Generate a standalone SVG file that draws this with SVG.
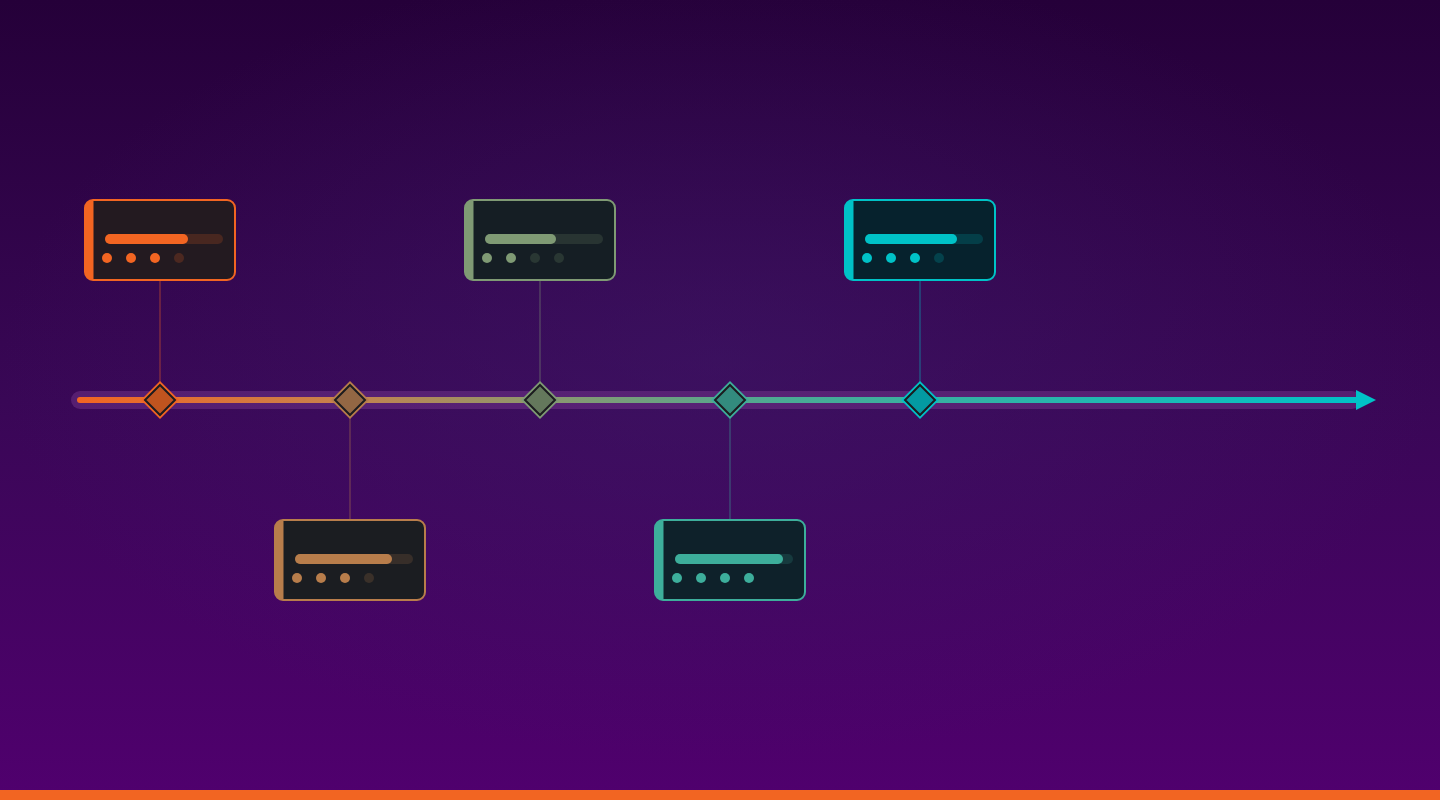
<svg xmlns="http://www.w3.org/2000/svg" width="1440" height="800" viewBox="0 0 1440 800">
<defs>
<linearGradient id="bg" x1="0" y1="0" x2="0" y2="1">
<stop offset="0" stop-color="#250039"/>
<stop offset="0.5" stop-color="#390756"/>
<stop offset="1" stop-color="#50006E"/>
</linearGradient>
<radialGradient id="glow" cx="0.5" cy="0.45" r="0.5">
<stop offset="0" stop-color="#3F1A6A" stop-opacity="0.5"/>
<stop offset="1" stop-color="#3F1A6A" stop-opacity="0"/>
</radialGradient>
<linearGradient id="line" gradientUnits="userSpaceOnUse" x1="77" y1="0" x2="1360" y2="0">
<stop offset="0" stop-color="#F26522"/>
<stop offset="0.2" stop-color="#C8814C"/>
<stop offset="0.37" stop-color="#8A9870"/>
<stop offset="0.55" stop-color="#4BAA94"/>
<stop offset="1" stop-color="#00C2C7"/>
</linearGradient>
<style>
.card{stroke-width:2}
.conn{stroke-width:1;opacity:0.55;fill:none}
.dia-in{stroke:#1B1B1F;stroke-width:2}
</style>
</defs>
<rect width="1440" height="800" fill="url(#bg)"/>
<rect width="1440" height="800" fill="url(#glow)"/>
<rect x="0" y="790" width="1440" height="10" fill="#F26522"/>

<g id="axis">
<line x1="80" y1="400" x2="1352" y2="400" stroke="#7A3A90" stroke-opacity="0.45" stroke-width="18" stroke-linecap="round"/>
<line x1="80" y1="400" x2="1358" y2="400" stroke="url(#line)" stroke-width="6" stroke-linecap="round"/>
<polygon points="1356,390 1376,400 1356,410" fill="#00C2C7"/>
</g>

<g id="connectors">
<line class="conn" x1="160" y1="281" x2="160" y2="383" stroke="#F26522"/>
<line class="conn" x1="350" y1="417" x2="350" y2="519" stroke="#B87D4B"/>
<line class="conn" x1="540" y1="281" x2="540" y2="383" stroke="#7F9A74"/>
<line class="conn" x1="730" y1="417" x2="730" y2="519" stroke="#3DAE9B"/>
<line class="conn" x1="920" y1="281" x2="920" y2="383" stroke="#00C2C7"/>
</g>

<g id="node1">
<polygon points="160,381 179,400 160,419 141,400" fill="#F26522"/>
<polygon class="dia-in" points="160,385 175,400 160,415 145,400" fill="#C0541F"/>
<rect class="card" x="85" y="200" width="150" height="80" rx="8" fill="#231A20" stroke="#F26522"/>
<path d="M93.5 200 V280 H93 A8 8 0 0 1 85 272 V208 A8 8 0 0 1 93 200 Z" fill="#F26522"/>
<rect x="105" y="234" width="118" height="10" rx="5" fill="#F26522" fill-opacity="0.18"/>
<rect x="105" y="234" width="83" height="10" rx="5" fill="#F26522"/>
<circle cx="107" cy="258" r="5" fill="#F26522"/>
<circle cx="131" cy="258" r="5" fill="#F26522"/>
<circle cx="155" cy="258" r="5" fill="#F26522"/>
<circle cx="179" cy="258" r="5" fill="#F26522" fill-opacity="0.2"/>
</g>

<g id="node2">
<polygon points="350,381 369,400 350,419 331,400" fill="#B87D4B"/>
<polygon class="dia-in" points="350,385 365,400 350,415 335,400" fill="#936744"/>
<rect class="card" x="275" y="520" width="150" height="80" rx="8" fill="#1B1D21" stroke="#B87D4B"/>
<path d="M283.5 520 V600 H283 A8 8 0 0 1 275 592 V528 A8 8 0 0 1 283 520 Z" fill="#B87D4B"/>
<rect x="295" y="554" width="118" height="10" rx="5" fill="#B87D4B" fill-opacity="0.18"/>
<rect x="295" y="554" width="97" height="10" rx="5" fill="#B87D4B"/>
<circle cx="297" cy="578" r="5" fill="#B87D4B"/>
<circle cx="321" cy="578" r="5" fill="#B87D4B"/>
<circle cx="345" cy="578" r="5" fill="#B87D4B"/>
<circle cx="369" cy="578" r="5" fill="#B87D4B" fill-opacity="0.2"/>
</g>

<g id="node3">
<polygon points="540,381 559,400 540,419 521,400" fill="#7F9A74"/>
<polygon class="dia-in" points="540,385 555,400 540,415 525,400" fill="#64785C"/>
<rect class="card" x="465" y="200" width="150" height="80" rx="8" fill="#151E24" stroke="#7F9A74"/>
<path d="M473.5 200 V280 H473 A8 8 0 0 1 465 272 V208 A8 8 0 0 1 473 200 Z" fill="#7F9A74"/>
<rect x="485" y="234" width="118" height="10" rx="5" fill="#7F9A74" fill-opacity="0.18"/>
<rect x="485" y="234" width="71" height="10" rx="5" fill="#7F9A74"/>
<circle cx="487" cy="258" r="5" fill="#7F9A74"/>
<circle cx="511" cy="258" r="5" fill="#7F9A74"/>
<circle cx="535" cy="258" r="5" fill="#7F9A74" fill-opacity="0.2"/>
<circle cx="559" cy="258" r="5" fill="#7F9A74" fill-opacity="0.2"/>
</g>

<g id="node4">
<polygon points="730,381 749,400 730,419 711,400" fill="#3DAE9B"/>
<polygon class="dia-in" points="730,385 745,400 730,415 715,400" fill="#338B7E"/>
<rect class="card" x="655" y="520" width="150" height="80" rx="8" fill="#0E212A" stroke="#3DAE9B"/>
<path d="M663.5 520 V600 H663 A8 8 0 0 1 655 592 V528 A8 8 0 0 1 663 520 Z" fill="#3DAE9B"/>
<rect x="675" y="554" width="118" height="10" rx="5" fill="#3DAE9B" fill-opacity="0.18"/>
<rect x="675" y="554" width="108" height="10" rx="5" fill="#3DAE9B"/>
<circle cx="677" cy="578" r="5" fill="#3DAE9B"/>
<circle cx="701" cy="578" r="5" fill="#3DAE9B"/>
<circle cx="725" cy="578" r="5" fill="#3DAE9B"/>
<circle cx="749" cy="578" r="5" fill="#3DAE9B"/>
</g>

<g id="node5">
<polygon points="920,381 939,400 920,419 901,400" fill="#00C2C7"/>
<polygon class="dia-in" points="920,385 935,400 920,415 905,400" fill="#039AA2"/>
<rect class="card" x="845" y="200" width="150" height="80" rx="8" fill="#06222D" stroke="#00C2C7"/>
<path d="M853.5 200 V280 H853 A8 8 0 0 1 845 272 V208 A8 8 0 0 1 853 200 Z" fill="#00C2C7"/>
<rect x="865" y="234" width="118" height="10" rx="5" fill="#00C2C7" fill-opacity="0.18"/>
<rect x="865" y="234" width="92" height="10" rx="5" fill="#00C2C7"/>
<circle cx="867" cy="258" r="5" fill="#00C2C7"/>
<circle cx="891" cy="258" r="5" fill="#00C2C7"/>
<circle cx="915" cy="258" r="5" fill="#00C2C7"/>
<circle cx="939" cy="258" r="5" fill="#00C2C7" fill-opacity="0.2"/>
</g>
</svg>
